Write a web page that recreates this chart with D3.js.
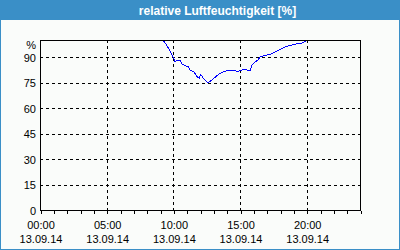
<!DOCTYPE html>
<html>
<head>
<meta charset="utf-8" />
<title>relative Luftfeuchtigkeit</title>
<style>
    body { margin: 0; background: #fff; }
    text { font-family: "Liberation Sans", Arial, sans-serif; }
</style>
</head>
<body>
<script src="https://d3js.org/d3.v7.min.js"></script>
<script>
    // measurements, 13.09.14
    var times = ["09:05","09:18","09:32","09:45","09:54","10:03","10:08","10:17","10:30","10:39",
                 "10:57","11:06","11:15","11:33","11:47","11:56","12:02","12:09","12:14","12:23",
                 "12:36","12:59","13:26","13:48","14:06","14:33","14:51","15:09","15:27","15:36",
                 "15:45","15:54","16:08","16:21","16:30","16:44","17:02","17:20","17:47","18:23",
                 "19:08","19:39","20:00"];
    var humidity = [100,99.2,96.5,93.5,91.2,89,87,88.2,88.2,85.9,
                    84.7,84.7,82.4,81.2,78.5,77.5,79.4,78.8,77.6,76.5,
                    74.7,77.1,80,81.5,82,82,81.5,82.4,82.9,81.8,
                    81.8,85.3,87,88.2,90,90.6,91.2,91.8,93.5,95.9,
                    97.6,98.2,99.6];

    var yTicks = [0,15,30,45,60,75,90];
    var xTickHours = [0,5,10,15,20];
    var xTickTimes = ["00:00","05:00","10:00","15:00","20:00"];
    var xTickDate = "13.09.14";

    var width = 400, height = 250;
    var margin = {left: 40, right: 40, top: 40, bottom: 40};
    var blue = "#3a8fc7";

    var svg = d3.select("body").append("svg")
                .attr("width", width)
                .attr("height", height);

    // frame + title bar
    svg.append("rect")
       .attr("x", 0.5).attr("y", 0.5)
       .attr("width", width - 1).attr("height", height - 1)
       .attr("fill", "#fafcfa")
       .attr("stroke", blue);

    svg.append("rect")
       .attr("x", 0).attr("y", 0)
       .attr("width", width).attr("height", 20)
       .attr("fill", blue);

    svg.append("text")
       .attr("x", 217.5).attr("y", 15)
       .attr("text-anchor", "middle")
       .attr("fill", "#fff")
       .style("font-weight", "bold")
       .style("font-size", "12px")
       .text("relative Luftfeuchtigkeit [%]");

    var x = d3.scaleLinear()
              .domain([0, 24])
              .range([margin.left, width - margin.right]);

    var y = d3.scaleLinear()
              .domain([0, 100])
              .range([height - margin.bottom, margin.top]);

    var toHours = function(t) {
        var p = t.split(":");
        return +p[0] + p[1] / 60;
    };

    var data = times.map(function(t, i) { return {h: toHours(t), v: humidity[i]}; });

    var snap = function(v) { return Math.round(v) + 0.5; };

    // dashed grid
    var grid = svg.append("g")
                  .attr("stroke", "#000")
                  .attr("stroke-dasharray", "3,3")
                  .attr("shape-rendering", "crispEdges");

    grid.selectAll("line.h")
        .data(yTicks.filter(function(d) { return d > 0; }))
        .enter().append("line")
        .attr("x1", x(0)).attr("x2", x(24))
        .attr("y1", function(d) { return snap(y(d)); })
        .attr("y2", function(d) { return snap(y(d)); });

    grid.selectAll("line.v")
        .data(xTickHours.filter(function(d) { return d > 0; }))
        .enter().append("line")
        .attr("y1", y(100)).attr("y2", y(0))
        .attr("x1", function(d) { return snap(x(d)); })
        .attr("x2", function(d) { return snap(x(d)); });

    // humidity line
    var line = d3.line()
                 .x(function(d) { return x(d.h); })
                 .y(function(d) { return y(d.v); });

    svg.append("path")
       .datum(data)
       .attr("d", line)
       .attr("fill", "none")
       .attr("stroke", "#0000ff")
       .attr("stroke-width", 1)
       .attr("shape-rendering", "crispEdges");

    // plot border
    svg.append("rect")
       .attr("x", snap(x(0))).attr("y", snap(y(100)))
       .attr("width", Math.round(x(24) - x(0)))
       .attr("height", Math.round(y(0) - y(100)))
       .attr("fill", "none")
       .attr("stroke", "#000")
       .attr("shape-rendering", "crispEdges");

    // hourly ticks
    var xMinor = d3.axisBottom(x)
                   .tickValues(d3.range(0, 25))
                   .tickSize(3)
                   .tickFormat("");

    var minorG = svg.append("g")
       .attr("transform", "translate(0.5," + snap(y(0)) + ")")
       .call(xMinor);
    minorG.select(".domain").remove();
    minorG.selectAll("line").attr("shape-rendering", "crispEdges").attr("stroke", "#000");

    // x labels (time + date)
    var xLabels = d3.axisBottom(x)
                    .tickValues(xTickHours)
                    .tickSize(0)
                    .tickFormat(function(d, i) { return xTickTimes[i]; });

    var xg = svg.append("g")
       .attr("transform", "translate(0," + y(0) + ")")
       .call(xLabels);
    xg.select(".domain").remove();
    xg.selectAll("text").remove();
    xg.selectAll(".tick").each(function(d, i) {
        var t = d3.select(this).append("text")
                  .attr("text-anchor", "middle")
                  .attr("fill", "#000")
                  .style("font-size", "11px");
        t.append("tspan").attr("x", 0.5).attr("y", 19).text(xTickTimes[i]);
        t.append("tspan").attr("x", 0.5).attr("y", 33).text(xTickDate);
    });

    // y labels
    var yAxis = d3.axisLeft(y)
                  .tickValues(yTicks)
                  .tickSize(0)
                  .tickPadding(4);

    var yg = svg.append("g")
       .attr("transform", "translate(" + x(0) + ",0)")
       .call(yAxis);
    yg.select(".domain").remove();
    yg.selectAll("text")
      .attr("fill", "#000")
      .attr("dy", "0.4em")
      .style("font-family", "'Liberation Sans', Arial, sans-serif")
      .style("font-size", "11px");

    svg.append("text")
       .attr("x", x(0) - 4).attr("y", y(100) + 9)
       .attr("text-anchor", "end")
       .attr("fill", "#000")
       .style("font-size", "11px")
       .text("%");
</script>
</body>
</html>
